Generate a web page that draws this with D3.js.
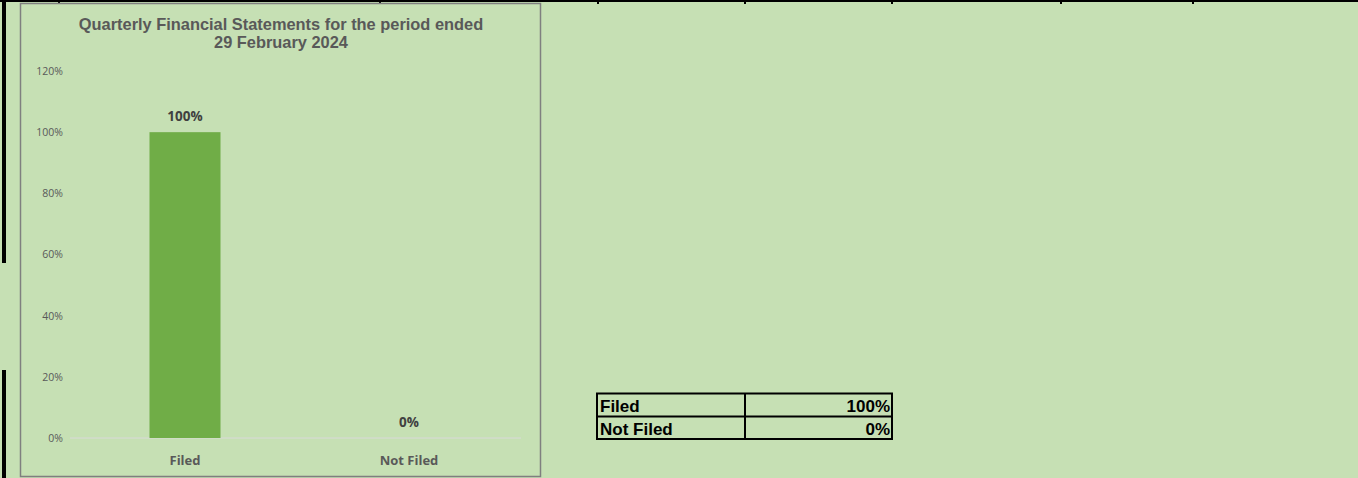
<!DOCTYPE html>
<html>
<head>
<meta charset="utf-8">
<script src="https://cdn.jsdelivr.net/npm/d3@7"></script>
<style>
  html, body { margin: 0; padding: 0; background: #C6E0B4; }
  svg { display: block; }
</style>
</head>
<body>
<script>
const categories = ["Filed", "Not Filed"];
const values = [1.0, 0.0];
const yTicks = [0, 0.2, 0.4, 0.6, 0.8, 1.0, 1.2];
const titleLines = ["Quarterly Financial Statements for the period ended", "29 February 2024"];
const tableRows = [["Filed", "100%"], ["Not Filed", "0%"]];
const sheetColumnMarks = [59, 380, 598, 745, 892, 1061, 1193];

const W = 1358, H = 478;
const svg = d3.select("body").append("svg").attr("width", W).attr("height", H);
svg.append("rect").attr("width", W).attr("height", H).attr("fill", "#C6E0B4");

// spreadsheet top border and column marks
svg.append("rect").attr("x", 0).attr("y", 0).attr("width", W).attr("height", 2).attr("fill", "#000");
svg.selectAll(".cm").data(sheetColumnMarks).join("rect")
  .attr("x", d => d - 1).attr("y", 0).attr("width", 2).attr("height", 4).attr("fill", "#000");
// left black border segments
svg.append("rect").attr("x", 2).attr("y", 0).attr("width", 4).attr("height", 263).attr("fill", "#000");
svg.append("rect").attr("x", 2).attr("y", 370).attr("width", 4).attr("height", H - 370).attr("fill", "#000");

// chart frame
svg.append("rect").attr("x", 20.5).attr("y", 3.5).attr("width", 520).attr("height", 473)
  .attr("fill", "#C6E0B4").attr("stroke", "#7F7F7F").attr("stroke-width", 1.5);

// title
const title = svg.append("text").attr("text-anchor", "middle")
  .attr("font-family", "Liberation Sans, Arial, sans-serif").attr("font-weight", "bold")
  .attr("font-size", 16.4).attr("fill", "#595959");
titleLines.forEach((t, i) => {
  title.append("tspan").attr("x", 281).attr("y", 30 + i * 18).text(t);
});

// scales
const x = d3.scaleBand().domain(categories).range([73, 521]).paddingInner(0.683).paddingOuter(0.3415);
const y = d3.scaleLinear().domain([0, 1.2]).range([438, 71]);

// y axis labels
const yAxis = d3.axisLeft(y).tickValues(yTicks).tickFormat(d3.format(".0%")).tickSize(0).tickPadding(0);
const ya = svg.append("g").attr("transform", "translate(63,0)").call(yAxis);
ya.select(".domain").remove();
ya.selectAll("text").attr("font-family", "Open Sans, sans-serif").attr("font-size", 10.5)
  .attr("fill", "#595959");

// baseline
svg.append("line").attr("x1", 70).attr("x2", 521).attr("y1", y(0)).attr("y2", y(0))
  .attr("stroke", "#D9D9D9").attr("stroke-width", 1);

// bars
svg.selectAll(".bar").data(categories).join("rect")
  .attr("x", d => x(d)).attr("width", x.bandwidth())
  .attr("y", (d, i) => y(values[i])).attr("height", (d, i) => y(0) - y(values[i]))
  .attr("fill", "#70AD47");

// data labels
svg.selectAll(".dl").data(categories).join("text")
  .attr("x", d => x(d) + x.bandwidth() / 2).attr("y", (d, i) => y(values[i]) - 11)
  .attr("text-anchor", "middle").attr("font-family", "Open Sans, sans-serif")
  .attr("font-weight", "bold").attr("font-size", 13.5).attr("fill", "#404040")
  .text((d, i) => d3.format(".0%")(values[i]));

// x axis labels
const xAxis = d3.axisBottom(x).tickSize(0).tickPadding(0);
const xa = svg.append("g").attr("transform", "translate(0,456)").call(xAxis);
xa.select(".domain").remove();
xa.selectAll("text").attr("font-family", "Open Sans, sans-serif").attr("font-size", 13)
  .attr("font-weight", "bold").attr("fill", "#595959");

// table
const tx = [597, 745, 892], ty = [393.5, 416.5, 439];
const tbl = svg.append("g");
tableRows.forEach((r, i) => {
  tbl.append("text").attr("x", tx[0] + 3).attr("y", ty[i + 1] - 4.5)
    .attr("font-family", "Liberation Sans, Arial, sans-serif").attr("font-weight", "bold")
    .attr("font-size", 17).attr("fill", "#000").text(r[0]);
  tbl.append("text").attr("x", tx[2] - 2).attr("y", ty[i + 1] - 4.5).attr("text-anchor", "end")
    .attr("font-family", "Liberation Sans, Arial, sans-serif").attr("font-weight", "bold")
    .attr("font-size", 17).attr("fill", "#000").text(r[1]);
});
ty.forEach(yy => tbl.append("line").attr("x1", tx[0] - 1).attr("x2", tx[2] + 1)
  .attr("y1", yy).attr("y2", yy).attr("stroke", "#000").attr("stroke-width", 2));
tx.forEach(xx => tbl.append("line").attr("x1", xx).attr("x2", xx)
  .attr("y1", ty[0]).attr("y2", ty[2]).attr("stroke", "#000").attr("stroke-width", 2));
</script>
</body>
</html>
